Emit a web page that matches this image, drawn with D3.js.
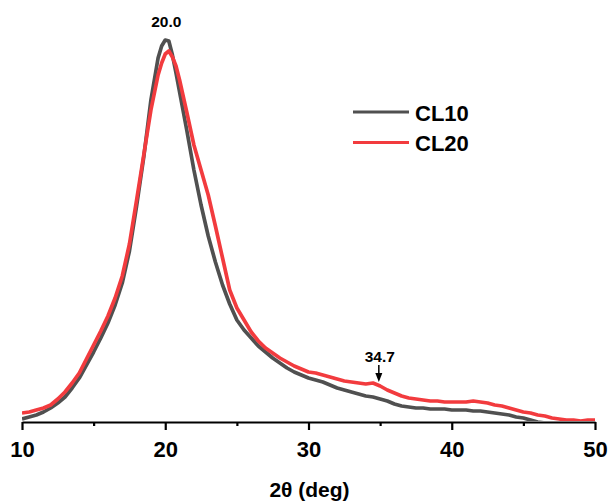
<!DOCTYPE html>
<html>
<head>
<meta charset="utf-8">
<script src="https://cdn.jsdelivr.net/npm/d3@7/dist/d3.min.js"></script>
<style>
  html, body { margin: 0; padding: 0; background: #fff; }
  svg { display: block; font-family: "Liberation Sans", Arial, Helvetica, sans-serif; font-weight: bold; }
</style>
</head>
<body>
<svg id="chart" width="608" height="501"></svg>
<script>
// 2θ scan positions (deg)
const twoTheta = [
  10, 10.5, 11, 11.5, 12, 12.5, 13, 13.5, 14, 14.5, 15, 15.5, 16, 16.5, 17, 17.5,
  18, 18.5, 19, 19.5, 19.75, 20, 20.25, 20.5, 20.75, 21, 21.5, 22, 22.5, 23, 23.5,
  24, 24.5, 25, 25.5, 26, 26.5, 27, 27.5, 28, 28.5, 29, 29.5, 30, 30.5, 31, 31.5,
  32, 32.5, 33, 33.5, 34, 34.5, 35, 35.5, 36, 36.5, 37, 37.5, 38, 38.5, 39, 39.5,
  40, 40.5, 41, 41.5, 42, 42.5, 43, 43.5, 44, 44.5, 45, 45.5, 46, 46.5, 47, 47.5,
  48, 48.5, 49, 49.5, 50
];

// Diffracted intensity (a.u.), CL10
const cl10 = [
  3, 5, 7, 10, 14, 19, 25, 34, 44, 57, 70, 84, 99, 117, 139, 171,
  216, 265, 322, 364, 376, 382, 381, 367, 349, 330, 292, 252, 217, 186, 160,
  137, 118, 102, 92, 84, 76, 70, 64, 59, 54, 50, 47, 44, 42, 40, 37,
  34, 32, 30, 28, 26, 25, 23, 21, 18, 16, 15, 14, 14, 13, 13, 13,
  12, 12, 12, 11, 11, 10, 9, 8, 7, 5, 4, 2, 0, -1, -2, -2,
  -3, -3, -3, -3, -3
];

// Diffracted intensity (a.u.), CL20
const cl20 = [
  9, 10, 12, 14, 17, 23, 30, 39, 49, 63, 77, 91, 106, 124, 146, 178,
  222, 267, 312, 347, 359, 368, 371, 365, 356, 342, 310, 277, 252, 227, 196,
  164, 132, 114, 102, 90, 81, 74, 69, 64, 60, 56, 53, 50, 49, 47, 45,
  43, 41, 40, 39, 38, 39, 36, 32, 29, 26, 24, 23, 22, 21, 21, 20,
  20, 20, 20, 21, 20, 19, 17, 16, 14, 12, 10, 9, 7, 6, 4, 3,
  2, 2, 1, 2, 2
];

const seriesNames = ["CL10", "CL20"];
const seriesColors = ["#505050", "#f23b3e"];
const majorTicks = [10, 20, 30, 40, 50];
const minorTicks = [15, 25, 35, 45];
const peakLabels = [{ x: 20.0, text: "20.0" }];
const arrowLabels = [{ x: 34.7, text: "34.7" }];

const svg = d3.select("#chart");
const plotLeft = 22, plotRight = 595, plotBottom = 422, plotTop = 40;

const x = d3.scaleLinear().domain([10, 50]).range([plotLeft, plotRight]);
const y = d3.scaleLinear().domain([0, 382]).range([plotBottom, plotTop]);

svg.append("defs").append("clipPath").attr("id", "plot-clip")
  .append("rect").attr("x", plotLeft).attr("y", 0)
  .attr("width", plotRight - plotLeft).attr("height", plotBottom - 1);

const line = d3.line().x((d, i) => x(twoTheta[i])).y(d => y(d));

const plot = svg.append("g").attr("clip-path", "url(#plot-clip)");
[cl10, cl20].forEach((vals, k) => {
  plot.append("path")
    .datum(vals)
    .attr("fill", "none")
    .attr("stroke", seriesColors[k])
    .attr("stroke-width", 3.7)
    .attr("stroke-linejoin", "round")
    .attr("d", line);
});

// bottom axis with major and minor ticks
const axis = svg.append("g").attr("transform", `translate(0,${plotBottom})`)
  .call(d3.axisBottom(x).tickValues(majorTicks).tickFormat(d3.format("d"))
    .tickSize(8).tickSizeOuter(0).tickPadding(11));
axis.select(".domain").attr("stroke", "#000").attr("stroke-width", 2.2);
axis.selectAll(".tick line").attr("stroke", "#000").attr("stroke-width", 2.2);
axis.selectAll(".tick text")
  .attr("font-size", 22).attr("font-weight", "bold").attr("fill", "#000")
  .attr("font-family", "Liberation Sans, Arial, sans-serif");

svg.append("g").attr("transform", `translate(0,${plotBottom})`)
  .call(d3.axisBottom(x).tickValues(minorTicks).tickFormat("").tickSize(4).tickSizeOuter(0))
  .call(g => g.select(".domain").remove())
  .selectAll(".tick line").attr("stroke", "#000").attr("stroke-width", 2.2);

// axis title
svg.append("text")
  .attr("x", (plotLeft + plotRight) / 2 + 1).attr("y", 497)
  .attr("text-anchor", "middle").attr("font-size", 21)
  .text("2θ (deg)");

// peak position label
svg.selectAll("text.peak").data(peakLabels).enter().append("text")
  .attr("class", "peak")
  .attr("x", d => x(d.x) + 1).attr("y", 27)
  .attr("text-anchor", "middle").attr("font-size", 15.5)
  .text(d => d.text);

// arrow-marked shoulder
arrowLabels.forEach(d => {
  const ax = x(d.x) + 3;
  svg.append("text").attr("x", ax + 1).attr("y", 362)
    .attr("text-anchor", "middle").attr("font-size", 15.5).text(d.text);
  svg.append("line").attr("x1", ax).attr("x2", ax).attr("y1", 365).attr("y2", 374)
    .attr("stroke", "#000").attr("stroke-width", 1.5);
  svg.append("path")
    .attr("d", `M${ax - 3.5},373 L${ax + 3.5},373 L${ax},382 Z`)
    .attr("fill", "#000");
});

// legend
const legend = svg.append("g");
seriesNames.forEach((name, i) => {
  const ly = 112 + i * 30.5;
  legend.append("line").attr("x1", 353).attr("x2", 409).attr("y1", ly).attr("y2", ly)
    .attr("stroke", seriesColors[i]).attr("stroke-width", 2.8);
  legend.append("text").attr("x", 415).attr("y", ly + 8.5)
    .attr("font-size", 22).text(name);
});
</script>
</body>
</html>
